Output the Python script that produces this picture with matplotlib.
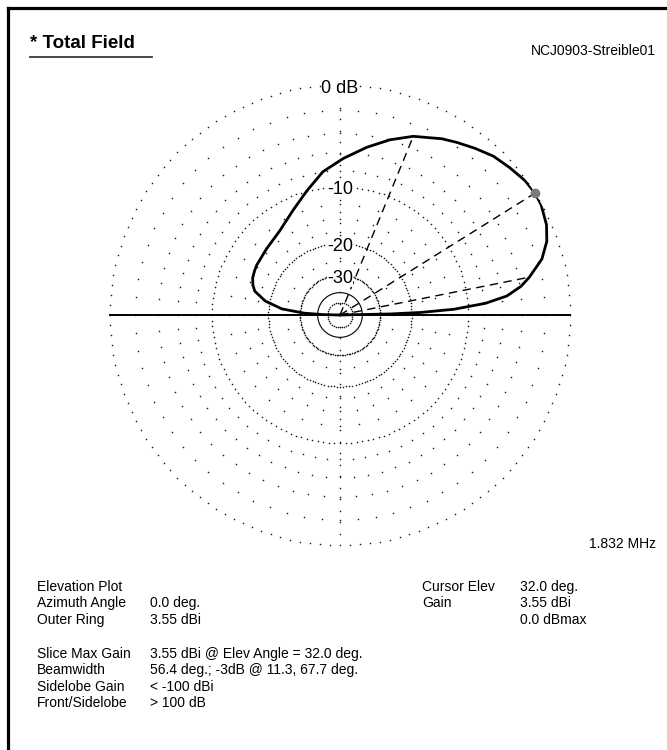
"EZNEC elevation plot, total field"
import numpy as np
import matplotlib
matplotlib.use("Agg")
import matplotlib.pyplot as plt
from matplotlib.lines import Line2D

plt.rcParams['font.family'] = ['Liberation Sans', 'DejaVu Sans']

# elevation pattern (deg, dB relative to max)
elev_deg = [0, 1.2, 1.8, 2.9, 4.6, 6.5, 9.0, 11.3, 15.5, 19.6, 23.6, 28.7,
            32, 36, 41, 46, 51, 56, 60, 67.7, 74.1, 80.9, 88.8, 96.8, 105,
            114, 125.6, 138.3, 148.9, 152.5, 157, 161, 164.4, 169.4, 174,
            177.1, 178.6, 180]
gain_db = [-99, -26, -18, -12, -7.8, -5.4, -3.9, -3.0, -1.6, -0.8, -0.35,
           -0.05, 0, -0.1, -0.4, -0.7, -1.2, -1.7, -2.1, -3.0, -4.0, -5.2,
           -6.6, -8.0, -10.0, -11.9, -13.7, -14.5, -14.8, -14.95, -15.2,
           -15.7, -16.4, -19.0, -23.5, -32, -45, -99]

cursor_elev = 32.0
bw_angles = [11.3, 67.7]
bw_db = -3.0

ring_labels = ["0 dB", "-10", "-20", "-30"]
ring_db = [0, -10, -20, -30]


def arrl(db):
    # ARRL log scale: radius shrinks by 0.89 every 2 dB
    return 0.89 ** (-np.asarray(db, dtype=float) / 2.0)


W, H = 667, 750
fig = plt.figure(figsize=(W / 100, H / 100), dpi=100)

cx, cy, R = 340, 315, 230
ax = fig.add_axes([(cx - R) / W, (H - cy - R) / H, 2 * R / W, 2 * R / H],
                  projection='polar')
ax.set_ylim(0, 1)
ax.set_axis_off()

dot = dict(ls='none', marker='o', ms=1.15, mec='none', mfc='#1a1a1a',
           clip_on=False)

# main rings, dense dots
for d, step in [(0, 2.5), (-10, 2.5), (-20, 2.5), (-30, 2.5), (-50, 10)]:
    th = np.radians(np.arange(0, 360, step))
    ax.plot(th, np.full(th.size, arrl(d)), **dot)
# -40 ring solid
th = np.linspace(0, 2 * np.pi, 200)
ax.plot(th, np.full(th.size, arrl(-40)), color='k', lw=0.8)
# minor rings, sparse dots
for d, step in [(-2, 5), (-4, 5), (-6, 5), (-8, 5),
                (-12.5, 10), (-15, 10), (-17.5, 10), (-25, 15)]:
    th = np.radians(np.arange(0, 360, step))
    ax.plot(th, np.full(th.size, arrl(d)), **dot)
# vertical spoke
rr = np.arange(0.05, 1.0, 0.05)
ax.plot(np.full(rr.size, np.pi / 2), rr, **dot)
ax.plot(np.full(rr.size, 3 * np.pi / 2), rr, **dot)

# horizon
ax.plot([0, 0], [0, 1], color='k', lw=1.4, clip_on=False)
ax.plot([np.pi, np.pi], [0, 1], color='k', lw=1.4, clip_on=False)

# ring labels
for lab, d in zip(ring_labels, ring_db):
    ax.annotate(lab, xy=(np.pi / 2, arrl(d)), xytext=(0, -2.2),
                textcoords='offset points', ha='center', va='center',
                fontsize=13, bbox=dict(fc='white', ec='none', pad=0.3),
                zorder=5)

# beamwidth / cursor lines
for a in bw_angles:
    ax.plot([np.radians(a)] * 2, [0, arrl(bw_db)], color='k', lw=1.0,
            dashes=(6, 4))
ax.plot([np.radians(cursor_elev)] * 2, [0, 1], color='k', lw=1.0,
        dashes=(6, 4))

# pattern
ax.plot(np.radians(elev_deg), arrl(gain_db), color='k', lw=2.0, zorder=6,
        solid_joinstyle='round')
ax.plot([np.radians(cursor_elev)], [1], 'o', ms=7, color='#7a7a7a',
        mec='none', zorder=7, clip_on=False)

# frame
fig.add_artist(Line2D([8 / W, 8 / W], [0, 1 - 8 / H], color='k', lw=2.3))
fig.add_artist(Line2D([8 / W, 1], [1 - 8 / H, 1 - 8 / H], color='k', lw=2.3))
fig.add_artist(Line2D([30 / W, 152 / W], [1 - 57 / H, 1 - 57 / H],
                      color='#3a3a3a', lw=1.3))


def txt(x, y, s, size=10, **kw):
    fig.text(x / W, 1 - y / H, s, va='baseline', fontsize=size, **kw)


txt(30, 48, "* Total Field", size=13.5, fontweight='bold')
txt(656, 55, "NCJ0903-Streible01", ha='right')
txt(656, 548, "1.832 MHz", ha='right')

left_rows = [("Elevation Plot", ""), ("Azimuth Angle", "0.0 deg."),
             ("Outer Ring", "3.55 dBi")]
right_rows = [("Cursor Elev", "32.0 deg."), ("Gain", "3.55 dBi"),
              ("", "0.0 dBmax")]
lower_rows = [("Slice Max Gain", "3.55 dBi @ Elev Angle = 32.0 deg."),
              ("Beamwidth", "56.4 deg.; -3dB @ 11.3, 67.7 deg."),
              ("Sidelobe Gain", "< -100 dBi"),
              ("Front/Sidelobe", "> 100 dB")]

for i, (a, b) in enumerate(left_rows):
    txt(37, 591 + 16.3 * i, a)
    txt(150, 591 + 16.3 * i, b)
for i, (a, b) in enumerate(right_rows):
    txt(422, 591 + 16.3 * i, a)
    txt(520, 591 + 16.3 * i, b)
for i, (a, b) in enumerate(lower_rows):
    txt(37, 658 + 16.3 * i, a)
    txt(150, 658 + 16.3 * i, b)

fig.savefig("out.png", dpi=100, facecolor='white')
